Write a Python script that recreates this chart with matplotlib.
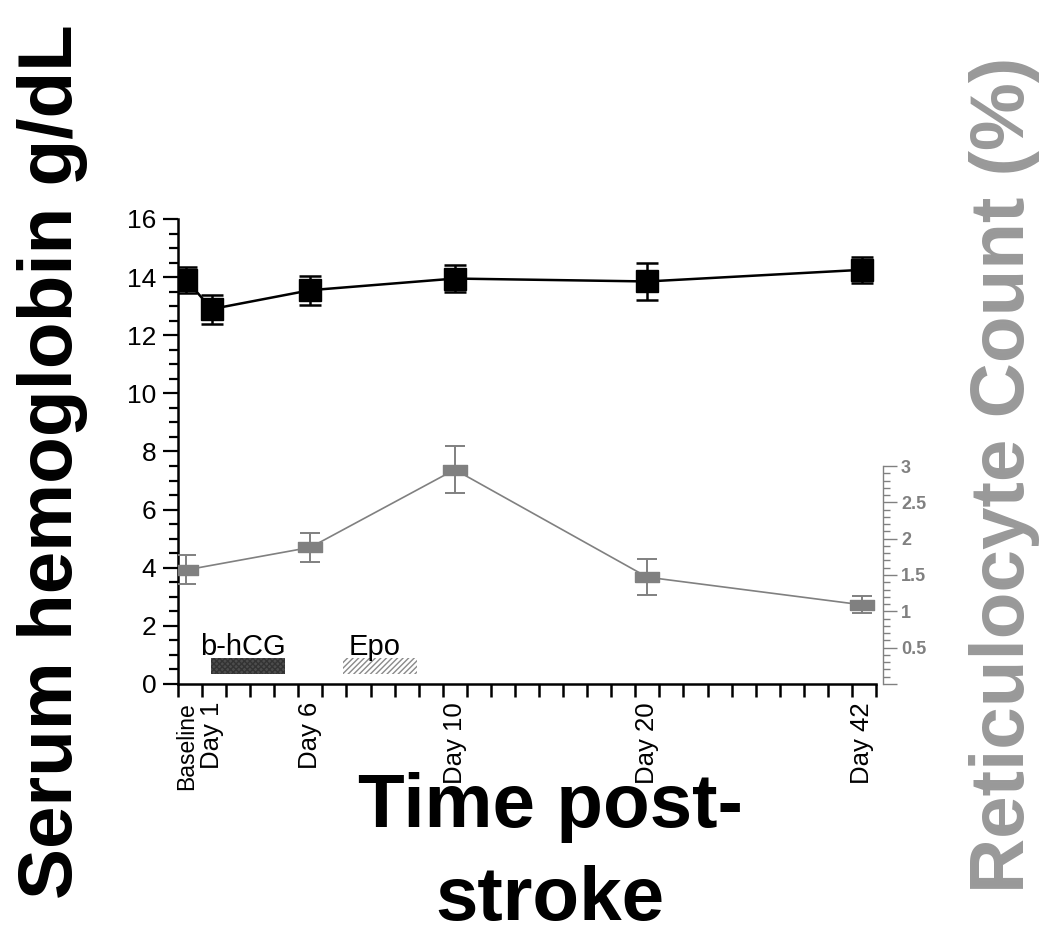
import numpy as np
import matplotlib
matplotlib.use("Agg")
import matplotlib.pyplot as plt
from matplotlib.ticker import MultipleLocator, FixedLocator, FuncFormatter

plt.rcParams['font.family'] = ['Liberation Sans', 'DejaVu Sans']

# time points (position on the ordinal time axis) and labels
time_labels = ['Baseline', 'Day 1', 'Day 6', 'Day 10', 'Day 20', 'Day 42']
time_pos = [0.35, 1.4, 5.5, 11.5, 19.5, 28.4]

# serum hemoglobin (g/dL), mean and error
hgb = [13.9, 12.9, 13.55, 13.95, 13.85, 14.25]
hgb_err = [0.45, 0.5, 0.5, 0.45, 0.65, 0.45]

# reticulocyte count (%), mean and error
retic = [1.57, 1.88, 2.95, 1.47, 1.09]
retic_err = [0.2, 0.2, 0.32, 0.25, 0.12]
retic_idx = [0, 2, 3, 4, 5]

# treatment windows on the time axis
treat_names = ['b-hCG', 'Epo']
treat_start = [1.37, 6.85]
treat_end = [4.45, 9.93]

gray = '#808080'

fig = plt.figure(figsize=(10.5, 9.39), dpi=100)
ax = fig.add_axes([0.1695, 0.2716, 0.6648, 0.4952])
ax2 = ax.twinx()

# hemoglobin series
ax.errorbar(time_pos, hgb, yerr=hgb_err, color='black', lw=1.8, elinewidth=1.8,
            capsize=8, capthick=1.8, marker='s', ms=16, mfc='black', mec='black',
            zorder=5)

# reticulocyte series
rect = [(-1, -0.42), (1, -0.42), (1, 0.42), (-1, 0.42), (-1, -0.42)]
rx = [time_pos[i] for i in retic_idx]
ax2.errorbar(rx, retic, yerr=retic_err, color=gray, lw=1.2, elinewidth=1.4,
             capsize=7, capthick=1.4, marker=rect, ms=17, mfc=gray, mec=gray,
             zorder=5)

# treatment bars
ax.barh(0.625, treat_end[0] - treat_start[0], left=treat_start[0], height=0.55,
        color='#4d4d4d', edgecolor='#333333', hatch='xxxxxx', lw=0, zorder=3)
ax.barh(0.625, treat_end[1] - treat_start[1], left=treat_start[1], height=0.55,
        color='white', edgecolor='#8a8a8a', hatch='//////', lw=0, zorder=3)
for name, s, e in zip(treat_names, treat_start, treat_end):
    ax.text((s + e) / 2 - 0.2, 1.0, name, ha='center', va='baseline', fontsize=21)

# left axis
ax.set_xlim(0, 29)
ax.set_ylim(0, 16)
for side in ['top', 'right']:
    ax.spines[side].set_visible(False)
ax.spines['left'].set_linewidth(1.8)
ax.spines['bottom'].set_linewidth(1.8)
ax.yaxis.set_major_locator(MultipleLocator(2))
ax.yaxis.set_minor_locator(MultipleLocator(0.5))
ax.tick_params(axis='y', which='major', length=10.5, width=1.6, labelsize=19, pad=5)
ax.tick_params(axis='y', which='minor', length=6.5, width=1.6)
ax.set_xticks(np.arange(0, 30))
ax.set_xticklabels([])
ax.tick_params(axis='x', which='major', length=9.5, width=1.8)
ax.set_xticks(time_pos, time_labels, minor=True, rotation=90, fontsize=18.5)
ax.tick_params(axis='x', which='minor', length=0, pad=13)
ax.get_xticklabels(minor=True)[0].set_fontsize(16.5)

# right axis
ax2.set_ylim(0, 6.4)
for side in ['top', 'left', 'bottom']:
    ax2.spines[side].set_visible(False)
ax2.spines['right'].set_bounds(0, 3)
ax2.spines['right'].set_position(('outward', 5))
ax2.spines['right'].set_color(gray)
ax2.spines['right'].set_linewidth(1.0)
ax2.set_yticks(np.arange(0, 3.01, 0.5))
ax2.yaxis.set_minor_locator(FixedLocator(np.arange(0, 3.01, 0.1)))
ax2.yaxis.set_major_formatter(FuncFormatter(lambda v, p: '' if v == 0 else ('%g' % v)))
ax2.tick_params(axis='y', which='major', length=10, width=1.0, color=gray,
                labelcolor=gray, labelsize=13, pad=3)
ax2.tick_params(axis='y', which='minor', length=5, width=1.0, color=gray)
for lab in ax2.get_yticklabels():
    lab.set_fontweight('bold')

# axis titles
fig.text(0.050, 0.508, 'Serum hemoglobin g/dL', rotation=90, ha='center', va='center',
         fontsize=55, fontweight='bold', color='black')
fig.text(0.957, 0.494, 'Reticulocyte Count (%)', rotation=90, ha='center', va='center',
         fontsize=55, fontweight='bold', color='#999999')
fig.text(0.524, 0.178, 'Time post-\nstroke', ha='center', va='top', fontsize=55,
         fontweight='bold', linespacing=1.4)

fig.savefig('out.png', dpi=100)
